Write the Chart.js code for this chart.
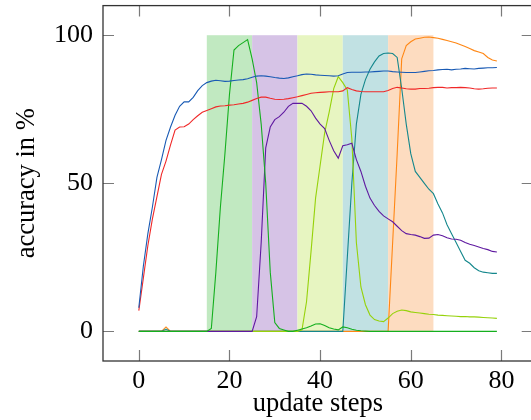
<!DOCTYPE html>
<html>
<head>
<meta charset="utf-8">
<script src="https://cdn.jsdelivr.net/npm/chart.js@4/dist/chart.umd.min.js"></script>
<style>
html,body{margin:0;padding:0;overflow:hidden;background:#fff;width:531px;height:420px;}
canvas{display:block;margin-top:-20px;}
</style>
</head>
<body>
<canvas id="c" width="540" height="440"></canvas>
<script>
const steps = [0,1,2,3,4,5,6,7,8,9,10,11,12,13,14,15,16,17,18,19,20,21,22,23,24,25,26,27,28,29,30,31,32,33,34,35,36,37,38,39,40,41,42,43,44,45,46,47,48,49,50,51,52,53,54,55,56,57,58,59,60,61,62,63,64,65,66,67,68,69,70,71,72,73,74,75,76,77,78,79];

const avgBlue = [8,22,33,42,52,58,64.5,69,73,76,77.5,77.5,79,81.3,83,84,84.5,84.8,84.6,84.4,84.5,84.7,84.9,85,85.3,85.8,86.2,86.3,86.2,86,85.7,85.5,85.4,85.6,86,86.3,86.7,86.9,86.8,86.6,86.5,86.4,86.3,86.2,86.3,86.9,87.4,87.5,87.5,87.5,87.6,87.6,87.7,87.8,87.9,87.9,87.7,87.6,87.5,87.4,87.4,87.4,87.6,87.8,88,88.1,88.3,88.4,88.5,88.3,88.5,88.6,88.8,88.7,88.6,88.8,88.9,89,89,89.1];

const avgRed = [7,18,29,38,45.5,53,57.5,63,68,69,69.1,70,71.5,72.8,74,74.6,75.2,75.8,76.1,76.2,76.4,76.5,76.8,77,77.4,78,78.6,79.1,79.1,78.7,78.4,78.3,78.4,78.6,78.9,79.2,79.6,80,80.4,80.6,80.7,80.8,80.9,80.9,80.9,81.2,82.3,81.7,81.2,81,80.9,80.9,80.9,80.9,80.9,81.3,82,82.4,82.2,81.9,81.8,81.8,82,82,82.1,82.3,82.4,82.4,82.2,82.3,82.3,82.4,82.3,82.2,81.9,81.8,81.9,82.1,82.2,82.2];

const task1 = [0,0,0,0,0,0,0,0,0,0,0,0,0,0,0,0,1,20,42,60,80,95,96.5,97.5,98.5,92,84,70,50,20,3,1,0.5,0,0,0.4,0.8,1.2,1.8,2.5,2.6,2,1.2,0.8,0.5,1.5,1.2,0.7,0.4,0.2,0.1,0,0,0,0,0,0,0,0,0,0,0,0,0,0,0,0,0,0,0,0,0,0,0,0,0,0,0,0,0];

const task2 = [0,0,0,0,0,0,0,0,0,0,0,0,0,0,0,0,0,0,0,0,0,0,0,0,0,0,5,30,62,69,71.5,72.5,74,76,77,77,77,76,74.5,72,70,68.5,64.5,61,58.5,62.7,63,63.5,58,54,49,45,42.5,40.5,39,38,37,35.5,34,33,32.7,32.5,32,31.4,31.5,32.5,32.7,32.3,31.6,31.2,31.1,30.8,30,29.4,29,28.5,28,27.6,27,26.8];

const task3 = [0,0,0,0,0,0,0,0,0,0,0,0,0,0,0,0,0,0,0,0,0,0,0,0,0,0,0,0,0,0,0,0,0,0,0,0,0.5,10,27,45,56,67,74,82,86,84,81.5,65,30,15,9,5.5,4,3.5,3.3,4.5,6,6.8,7.2,7,6.6,6.4,6.2,6,5.8,5.7,5.5,5.4,5.3,5.2,5.1,5,5,4.9,4.9,4.8,4.7,4.6,4.5,4.4];

const task4 = [0,0,0,0,0,0,0.8,0,0,0,0,0,0,0,0,0,0,0,0,0,0,0,0,0,0,0,0,0,0,0,0,0,0,0,0,0,0,0,0,0,0,0,0,0,0,0,25,50,70,80,85,88.5,91,93,93.8,94,93.8,92.5,82,70,60,54,52,50,48,46.5,43,40,36,33,30,27,24,23,21.5,20.5,20,19.8,19.6,19.6];

const task5 = [0,0,0,0,0,0,1.5,0,0,0,0,0,0,0,0,0,0,0,0,0,0,0,0,0,0,0,0,0,0,0,0,0,0,0,0,0,0,0,0,0,0,0,0,0,0,0,0,0,0,0,0,0,0,0,0,0,30,60,92,96.5,97.8,98.7,99,99.3,99.4,99.2,99,98.6,98.2,97.8,97.4,96.8,96.2,95.5,94.8,94.3,93.8,92.5,91.6,91.3];

const bandStart = [15,25,35,45,55];
const bandEnd   = [25,35,45,55,65];
const bandTop = 100, bandBottom = 0;
const bandColors = ['#c1e9c1','#d6c3e6','#e7f5c1','#c1e1e3','#fddcc0'];

const xTicks = [0,20,40,60,80];
const yTicks = [0,50,100];

const seriesList = [
  {d: avgBlue, c: 'rgb(25,90,180)'},
  {d: avgRed,  c: 'rgb(240,40,40)'},
  {d: task1,   c: 'rgb(20,175,30)'},
  {d: task2,   c: 'rgb(95,25,160)'},
  {d: task3,   c: 'rgb(150,210,10)'},
  {d: task4,   c: 'rgb(20,135,140)'},
  {d: task5,   c: 'rgb(255,135,20)'}
];

const datasets = seriesList.map(s => ({
  data: s.d.map((v,i) => ({x: steps[i], y: v})),
  borderColor: s.c,
  borderWidth: 1.1,
  pointRadius: 0,
  tension: 0,
  fill: false
}));

const serif = "'Liberation Serif', 'DejaVu Serif', serif";

const bandsPlugin = {
  id: 'bands',
  beforeDatasetsDraw(chart) {
    const {ctx, scales:{x, y}} = chart;
    ctx.save();
    for (let i = 0; i < bandStart.length; i++) {
      const x0 = x.getPixelForValue(bandStart[i]);
      const x1 = x.getPixelForValue(bandEnd[i]);
      const y0 = y.getPixelForValue(bandTop);
      const y1 = y.getPixelForValue(bandBottom);
      ctx.fillStyle = bandColors[i];
      ctx.fillRect(x0, y0, x1 - x0, y1 - y0);
    }
    ctx.restore();
  }
};

const framePlugin = {
  id: 'frame',
  afterDraw(chart) {
    const {ctx, chartArea: a, scales:{x, y}} = chart;
    ctx.save();
    const tl = 11;
    ctx.strokeStyle = '#7a7a7a';
    ctx.lineWidth = 1.2;
    ctx.beginPath();
    xTicks.forEach(t => {
      const px = Math.round(x.getPixelForValue(t)) + 0.5;
      ctx.moveTo(px, a.bottom); ctx.lineTo(px, a.bottom - tl);
      ctx.moveTo(px, a.top); ctx.lineTo(px, a.top + tl);
    });
    yTicks.forEach(t => {
      const py = Math.round(y.getPixelForValue(t)) + 0.5;
      ctx.moveTo(a.left, py); ctx.lineTo(a.left + tl, py);
      ctx.moveTo(a.right, py); ctx.lineTo(a.right - tl, py);
    });
    ctx.stroke();
    ctx.strokeStyle = '#333';
    ctx.lineWidth = 1.3;
    ctx.strokeRect(a.left, a.top, a.right - a.left, a.bottom - a.top);
    ctx.restore();
  }
};

new Chart(document.getElementById('c'), {
  type: 'line',
  data: { datasets },
  options: {
    responsive: false,
    animation: false,
    devicePixelRatio: 1,
    layout: { padding: { top: 0, right: 7.3, left: 0, bottom: 0 } },
    plugins: { legend: { display: false }, tooltip: { enabled: false } },
    scales: {
      x: {
        type: 'linear',
        min: -7.9, max: 86.9,
        grid: { display: false, drawTicks: false },
        border: { display: false },
        afterBuildTicks(s) { s.ticks = xTicks.map(v => ({value: v})); },
        afterFit(s) { s.height = 59; },
        ticks: { color: '#000', font: { family: serif, size: 26 }, padding: 5, maxRotation: 0 },
        title: { display: true, text: 'update steps', color: '#000', font: { family: serif, size: 26.5 }, padding: { top: 0, bottom: 0 } }
      },
      y: {
        type: 'linear',
        min: -10, max: 110,
        grid: { display: false, drawTicks: false },
        border: { display: false },
        afterBuildTicks(s) { s.ticks = yTicks.map(v => ({value: v})); },
        afterFit(s) { s.width = 103; },
        ticks: { color: '#000', font: { family: serif, size: 26 }, padding: 10 },
        title: { display: true, text: 'accuracy in %', color: '#000', font: { family: serif, size: 26.5 }, padding: { top: 11, bottom: 0 } }
      }
    }
  },
  plugins: [bandsPlugin, framePlugin]
});
</script>
</body>
</html>
